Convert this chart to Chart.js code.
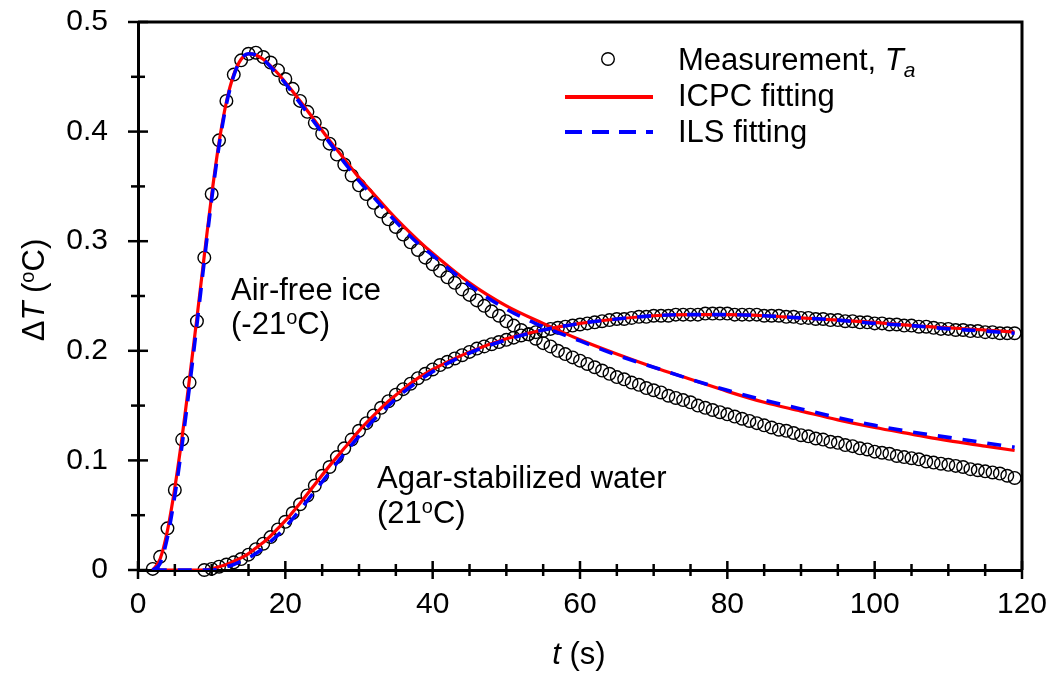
<!DOCTYPE html>
<html>
<head>
<meta charset="utf-8">
<script src="https://cdn.jsdelivr.net/npm/chart.js@4.4.0/dist/chart.umd.min.js"></script>
<style>
  html, body { margin: 0; padding: 0; background: #fff; }
  #wrap { width: 1055px; height: 673px; position: relative; }
</style>
</head>
<body>
<div id="wrap"><canvas id="chart"></canvas></div>
<script>
// measured temperature rise, one sample per second
const iceStart = 2;
const agarStart = 9;
const iceMeas = [
  0.001, 0.012, 0.038, 0.073, 0.119, 0.171, 0.227, 0.285, 0.343, 0.392,
  0.428, 0.452, 0.465, 0.471, 0.472, 0.468, 0.463, 0.456, 0.448, 0.439,
  0.428, 0.418, 0.408, 0.398, 0.389, 0.379, 0.370, 0.360, 0.351, 0.343,
  0.335, 0.327, 0.320, 0.313, 0.306, 0.299, 0.292, 0.285, 0.279, 0.273,
  0.267, 0.262, 0.256, 0.251, 0.246, 0.241, 0.236, 0.232, 0.227, 0.223,
  0.219, 0.215, 0.211, 0.207, 0.204, 0.200, 0.197, 0.194, 0.191, 0.188,
  0.185, 0.182, 0.179, 0.176, 0.174, 0.171, 0.169, 0.166, 0.164, 0.162,
  0.159, 0.157, 0.155, 0.153, 0.150, 0.148, 0.146, 0.144, 0.142, 0.140,
  0.138, 0.136, 0.134, 0.132, 0.130, 0.128, 0.127, 0.125, 0.123, 0.122,
  0.120, 0.119, 0.117, 0.116, 0.114, 0.113, 0.111, 0.110, 0.108, 0.107,
  0.106, 0.104, 0.103, 0.102, 0.101, 0.099, 0.098, 0.097, 0.096, 0.095,
  0.094, 0.092, 0.091, 0.090, 0.089, 0.088, 0.086, 0.084
];
const agarMeas = [
  0.000, 0.001, 0.003, 0.005, 0.007, 0.010, 0.014, 0.019, 0.024, 0.030,
  0.037, 0.044, 0.052, 0.060, 0.068, 0.077, 0.086, 0.094, 0.103, 0.111,
  0.119, 0.127, 0.134, 0.141, 0.148, 0.154, 0.160, 0.165, 0.170, 0.175,
  0.179, 0.183, 0.187, 0.190, 0.193, 0.196, 0.199, 0.202, 0.204, 0.206,
  0.208, 0.210, 0.212, 0.214, 0.215, 0.217, 0.218, 0.220, 0.221, 0.222,
  0.223, 0.224, 0.225, 0.226, 0.227, 0.228, 0.229, 0.229, 0.230, 0.231,
  0.231, 0.232, 0.232, 0.232, 0.233, 0.233, 0.233, 0.233, 0.234, 0.234,
  0.234, 0.234, 0.233, 0.233, 0.233, 0.233, 0.232, 0.232, 0.232, 0.231,
  0.231, 0.230, 0.230, 0.229, 0.229, 0.228, 0.228, 0.227, 0.227, 0.226,
  0.226, 0.225, 0.225, 0.224, 0.224, 0.223, 0.223, 0.222, 0.222, 0.221,
  0.220, 0.220, 0.219, 0.219, 0.218, 0.218, 0.217, 0.217, 0.216, 0.216,
  0.216
];

// fitted curves
const fitTime = [2, 3, 4, 5, 6, 7, 8, 9, 10, 11, 12, 13, 14, 15, 16, 17, 18, 19, 20,
  22, 24, 26, 28, 30, 32, 34, 36, 38, 40,
  45, 50, 55, 60, 65, 70, 75, 80, 85, 90, 95, 100, 105, 110, 115, 119];
const icpcIce = [0, 0.010, 0.036, 0.075, 0.122, 0.175, 0.230, 0.287, 0.342, 0.390, 0.427, 0.452, 0.466, 0.471, 0.470, 0.466, 0.460, 0.453, 0.445,
  0.428, 0.410, 0.392, 0.375, 0.358, 0.343, 0.328, 0.314, 0.301, 0.289,
  0.262, 0.241, 0.225, 0.210, 0.197, 0.185, 0.174, 0.163, 0.153, 0.145, 0.137, 0.130, 0.124, 0.118, 0.113, 0.109];
const ilsIce = [0, 0.006, 0.030, 0.068, 0.115, 0.168, 0.224, 0.282, 0.338, 0.387, 0.425, 0.451, 0.466, 0.471, 0.470, 0.466, 0.459, 0.452, 0.444,
  0.426, 0.408, 0.390, 0.372, 0.355, 0.340, 0.325, 0.311, 0.298, 0.287,
  0.260, 0.238, 0.222, 0.209, 0.196, 0.185, 0.174, 0.164, 0.155, 0.147, 0.139, 0.132, 0.126, 0.121, 0.116, 0.112];
const icpcAgar = [0, 0, 0, 0, 0, 0, 0, 0, 0.001, 0.003, 0.005, 0.008, 0.011, 0.015, 0.020, 0.025, 0.031, 0.038, 0.045,
  0.061, 0.078, 0.095, 0.111, 0.127, 0.141, 0.154, 0.165, 0.175, 0.183,
  0.199, 0.211, 0.219, 0.225, 0.229, 0.232, 0.233, 0.233, 0.232, 0.230, 0.228, 0.226, 0.223, 0.221, 0.219, 0.217];
const ilsAgar = [0, 0, 0, 0, 0, 0, 0, 0, 0, 0.001, 0.003, 0.005, 0.008, 0.011, 0.015, 0.020, 0.026, 0.032, 0.039,
  0.055, 0.072, 0.089, 0.106, 0.122, 0.137, 0.150, 0.162, 0.172, 0.181,
  0.198, 0.210, 0.219, 0.225, 0.229, 0.232, 0.233, 0.233, 0.232, 0.230, 0.228, 0.225, 0.223, 0.220, 0.218, 0.216];

const FONT = '"Liberation Sans", Arial, sans-serif';

function series(start, values) {
  return values.map((v, i) => ({ x: start + i, y: v }));
}
function fitSeries(values) {
  return values.map((v, i) => ({ x: fitTime[i], y: v }));
}

function measSet(data) {
  return {
    data,
    showLine: false,
    pointRadius: 6.3,
    pointBorderWidth: 1.4,
    pointBorderColor: '#000',
    pointBackgroundColor: 'rgba(0,0,0,0)',
    clip: false,
    order: 2,
  };
}
function icpcSet(data) {
  return {
    data,
    borderColor: '#ff0000',
    borderWidth: 3.2,
    pointRadius: 0,
    cubicInterpolationMode: 'monotone',
    order: 1,
  };
}
function ilsSet(data) {
  return {
    data,
    borderColor: '#0000ff',
    borderWidth: 3.6,
    borderDash: [14, 11],
    pointRadius: 0,
    cubicInterpolationMode: 'monotone',
    order: 0,
  };
}

function drawRuns(ctx, x, y, runs) {
  for (const r of runs) {
    ctx.font = r.font;
    ctx.fillText(r.text, x, y + (r.dy || 0));
    x += ctx.measureText(r.text).width;
  }
}
function runsWidth(ctx, runs) {
  let w = 0;
  for (const r of runs) {
    ctx.font = r.font;
    w += ctx.measureText(r.text).width;
  }
  return w;
}

const big = '31px ' + FONT;
const bigItalic = 'italic 31px ' + FONT;
const small = '20px ' + FONT;
const smallItalic = 'italic 21px ' + FONT;

const decorations = {
  id: 'decorations',
  afterDatasetsDraw(chart) {
    const { ctx, chartArea: a, scales: { x, y } } = chart;
    ctx.save();
    ctx.strokeStyle = '#000';
    ctx.lineWidth = 3;
    ctx.beginPath();
    ctx.moveTo(a.left, a.top);
    ctx.lineTo(a.right, a.top);
    ctx.lineTo(a.right, a.bottom);
    ctx.stroke();

    // ticks crossing the axes
    ctx.lineWidth = 2.5;
    for (let v = 0; v <= 120; v += 5) {
      const px = x.getPixelForValue(v);
      const len = v % 20 === 0 ? 9 : 6;
      ctx.beginPath();
      ctx.moveTo(px, a.bottom - len);
      ctx.lineTo(px, a.bottom + len);
      ctx.stroke();
    }
    for (let i = 0; i <= 10; i++) {
      const py = y.getPixelForValue(i * 0.05);
      const len = i % 2 === 0 ? 10 : 7;
      ctx.beginPath();
      ctx.moveTo(a.left - len, py);
      ctx.lineTo(a.left + len, py);
      ctx.stroke();
    }
    ctx.restore();
  },
  afterDraw(chart) {
    const { ctx } = chart;
    ctx.save();
    ctx.fillStyle = '#000';
    ctx.textBaseline = 'alphabetic';
    ctx.textAlign = 'left';

    // legend
    ctx.strokeStyle = '#000';
    ctx.lineWidth = 1.4;
    ctx.beginPath();
    ctx.arc(608, 59, 6.3, 0, Math.PI * 2);
    ctx.stroke();
    drawRuns(ctx, 678, 69.5, [
      { text: 'Measurement, ', font: big },
      { text: 'T', font: bigItalic },
      { text: 'a', font: smallItalic, dy: 7 },
    ]);
    ctx.lineWidth = 4;
    ctx.strokeStyle = '#ff0000';
    ctx.beginPath();
    ctx.moveTo(565, 97);
    ctx.lineTo(653, 97);
    ctx.stroke();
    drawRuns(ctx, 678, 106, [{ text: 'ICPC fitting', font: big }]);
    ctx.strokeStyle = '#0000ff';
    ctx.setLineDash([17, 10]);
    ctx.beginPath();
    ctx.moveTo(565, 132);
    ctx.lineTo(653, 132);
    ctx.stroke();
    ctx.setLineDash([]);
    drawRuns(ctx, 678, 141.5, [{ text: 'ILS fitting', font: big }]);

    // curve labels
    drawRuns(ctx, 231, 300, [{ text: 'Air-free ice', font: big }]);
    drawRuns(ctx, 231, 334, [
      { text: '(-21', font: big },
      { text: 'o', font: small, dy: -10 },
      { text: 'C)', font: big },
    ]);
    drawRuns(ctx, 377, 488, [{ text: 'Agar-stabilized water', font: big }]);
    drawRuns(ctx, 377, 523, [
      { text: '(21', font: big },
      { text: 'o', font: small, dy: -10 },
      { text: 'C)', font: big },
    ]);

    // axis titles
    const xTitle = [
      { text: 't', font: bigItalic },
      { text: ' (s)', font: big },
    ];
    drawRuns(ctx, 579 - runsWidth(ctx, xTitle) / 2, 664, xTitle);

    const yTitle = [
      { text: '\u0394', font: big },
      { text: 'T', font: bigItalic },
      { text: ' (', font: big },
      { text: 'o', font: small, dy: -10 },
      { text: 'C)', font: big },
    ];
    ctx.translate(44, 290);
    ctx.rotate(-Math.PI / 2);
    drawRuns(ctx, -runsWidth(ctx, yTitle) / 2, 0, yTitle);
    ctx.restore();
  },
};

const ctx = document.getElementById('chart');

new Chart(ctx, {
  type: 'line',
  data: {
    datasets: [
      measSet(series(iceStart, iceMeas)),
      measSet(series(agarStart, agarMeas)),
      icpcSet(fitSeries(icpcIce)),
      icpcSet(fitSeries(icpcAgar)),
      ilsSet(fitSeries(ilsIce)),
      ilsSet(fitSeries(ilsAgar)),
    ],
  },
  options: {
    responsive: true,
    maintainAspectRatio: false,
    animation: false,
    events: [],
    layout: { padding: { left: 0, top: 22, right: 33, bottom: 0 } },
    plugins: {
      legend: { display: false },
      tooltip: { enabled: false },
    },
    scales: {
      x: {
        type: 'linear',
        min: 0,
        max: 120,
        grid: { display: false, drawTicks: false },
        border: { display: true, color: '#000', width: 3 },
        ticks: {
          stepSize: 20,
          padding: 17,
          color: '#000',
          font: { family: FONT, size: 30 },
          maxRotation: 0,
        },
        afterFit(scale) {
          scale.height = 103;
          scale.paddingLeft = 0;
          scale.paddingRight = 0;
        },
      },
      y: {
        type: 'linear',
        min: 0,
        max: 0.5,
        grid: { display: false, drawTicks: false },
        border: { display: true, color: '#000', width: 3 },
        ticks: {
          stepSize: 0.1,
          padding: 30,
          color: '#000',
          font: { family: FONT, size: 30 },
        },
        afterFit(scale) {
          scale.width = 138;
          scale.paddingTop = 0;
          scale.paddingBottom = 0;
        },
      },
    },
  },
  plugins: [decorations],
});
</script>
</body>
</html>
